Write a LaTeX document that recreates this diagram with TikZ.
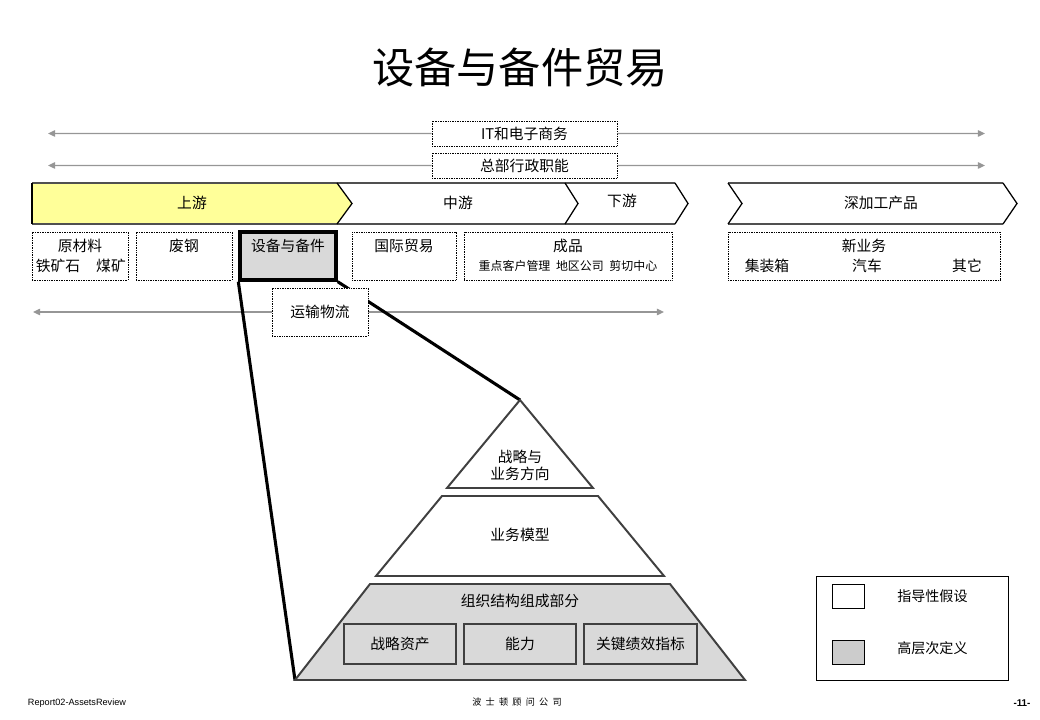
\documentclass[tikz,border=0pt]{standalone}
\usepackage{fontspec}
\setmainfont{Liberation Sans}
\newfontfamily\cjk{Noto Sans CJK SC}
\usepackage{tikz}
\usetikzlibrary{arrows.meta,calc,positioning,fit,backgrounds}
\definecolor{upyellow}{RGB}{255,255,153}
\definecolor{boxgray}{RGB}{217,217,217}
\definecolor{keygray}{RGB}{204,204,204}
\definecolor{flowgray}{RGB}{150,150,150}
\definecolor{edgegray}{RGB}{80,80,80}
\definecolor{pyrgray}{RGB}{64,64,64}

\begin{document}
\begin{tikzpicture}[x=0.025cm,y=-0.025cm,
    every node/.style={font=\cjk\fontsize{10.5}{12}\selectfont, inner sep=0pt},
    small/.style={font=\cjk\fontsize{8.5}{10}\selectfont},
    dotbox/.style={draw, dash pattern=on 0.6pt off 0.6pt, line width=0.6pt, fill=white},
    keybox/.style={draw, line width=2.4pt, fill=boxgray},
    innerbox/.style={draw=pyrgray, line width=0.9pt, fill=boxgray},
    flow/.style={draw=flowgray, line width=1pt, -{Triangle[length=5pt,width=4.5pt]}},
    chevedge/.style={draw=edgegray, line width=1.6pt},
    chevtip/.style={draw=black, line width=0.9pt},
    pyr/.style={draw=pyrgray, line width=1.4pt},
    funnel/.style={draw=black, line width=2.2pt}]
        \useasboundingbox (0,0) rectangle (1040,720);
        %Title
        \node[font=\cjk\fontsize{30}{34}\selectfont] (title) at (520,68) {设备与备件贸易};
        %Support functions
        \node[dotbox, fit={(432,121) (617,146)}] (it) {};
        \node (itt) at (it.center) {IT和电子商务};
        \node[dotbox, fit={(432,153) (617,178)}] (hq) {};
        \node (hqt) at (hq.center) {总部行政职能};
        \coordinate (itL) at (48,133.5);
        \coordinate (itR) at (985,133.5);
        \coordinate (hqL) at (48,165.5);
        \coordinate (hqR) at (985,165.5);
        \draw[flow] (it.west) -- (itL);
        \draw[flow] (it.east) -- (itR);
        \draw[flow] (hq.west) -- (hqL);
        \draw[flow] (hq.east) -- (hqR);
        %Value chain
        \fill[upyellow] (32,183) -- (337,183) -- (352,203.5) -- (337,224) -- (32,224) -- cycle;
        \draw[chevedge] (32,183) -- (675,183) (32,224) -- (675,224);
        \draw[chevedge] (728,183) -- (1003,183) (728,224) -- (1003,224);
        \draw[chevtip] (32,183) -- (32,224);
        \draw[chevtip] (337,183) -- (352,203.5) -- (337,224);
        \draw[chevtip] (565,183) -- (578,203.5) -- (565,224);
        \draw[chevtip] (675,183) -- (688,203.5) -- (675,224);
        \draw[chevtip] (728,183) -- (742,203.5) -- (728,224);
        \draw[chevtip] (1003,183) -- (1017,203.5) -- (1003,224);
        \node (up) at (192,203) {上游};
        \node (mid) at (458,203) {中游};
        \node (down) at (622,201) {下游};
        \node (deep) at (881,203) {深加工产品};
        %Business units
        \node[dotbox, fit={(32,232) (128,280)}] (raw) {};
        \node (rawt) at (80,246) {原材料};
        \node (ore) at (58,266) {铁矿石};
        \node (coal) at (111,266) {煤矿};
        \node[dotbox, fit={(136,232) (232,280)}] (scrap) {};
        \node (scrapt) at (184,246) {废钢};
        \node[keybox, fit={(240,232) (336,280)}] (equip) {};
        \node (equipt) at (288,246) {设备与备件};
        \node[dotbox, fit={(352,232) (456,280)}] (trade) {};
        \node (tradet) at (404,246) {国际贸易};
        \node[dotbox, fit={(464,232) (672,280)}] (prod) {};
        \node (prodt) at (568,246) {成品};
        \node[small] (prods) at (568,266) {重点客户管理\hspace{4pt}地区公司\hspace{4pt}剪切中心};
        \node[dotbox, fit={(728,232) (1000,280)}] (newb) {};
        \node (newbt) at (864,246) {新业务};
        \node (box) at (767,266) {集装箱};
        \node (car) at (867,266) {汽车};
        \node (other) at (967,266) {其它};
        %Logistics
        \node[dotbox, fit={(272,288) (368,336)}] (log) {};
        \node (logt) at (log.center) {运输物流};
        \coordinate (logL) at (33,312);
        \coordinate (logR) at (664,312);
        %Pyramid
        \coordinate (apex) at (520,400);
        \coordinate (base) at (295,680);
        \filldraw[pyr, fill=white] (apex) -- (593,488) -- (447,488) -- cycle;
        \filldraw[pyr, fill=white] (442,496) -- (598,496) -- (664,576) -- (376,576) -- cycle;
        \filldraw[pyr, fill=boxgray] (370,584) -- (670,584) -- (745,680) -- (base) -- cycle;
        \node[align=center] (strat) at (520,465) {战略与\\业务方向};
        \node (model) at (520,535) {业务模型};
        \node (org) at (520,601) {组织结构组成部分};
        \node[innerbox, fit={(344,624) (456,664)}] (asset) {};
        \node (assett) at (asset.center) {战略资产};
        \node[innerbox, fit={(464,624) (576,664)}] (cap) {};
        \node (capt) at (cap.center) {能力};
        \node[innerbox, fit={(584,624) (697,664)}] (kpi) {};
        \node (kpit) at (kpi.center) {关键绩效指标};
        %Funnel
        \begin{scope}[on background layer]
        \draw[flow] (log.west) -- (logL);
        \draw[flow] (log.east) -- (logR);
        \draw[funnel] (equip.south west) -- (base);
        \draw[funnel] (equip.south east) -- (apex);
        \end{scope}
        %Legend
        \node[draw, line width=0.7pt, fit={(816,576) (1008,680)}] (legend) {};
        \node[draw, line width=0.6pt, fill=white, fit={(832,584) (864,608)}] (keyw) {};
        \node[draw, line width=0.6pt, fill=keygray, fit={(832,640) (864,664)}] (keyg) {};
        \node[anchor=west, font=\cjk\fontsize{10}{12}\selectfont] (keywt) at (897,596) {指导性假设};
        \node[anchor=west, font=\cjk\fontsize{10}{12}\selectfont] (keygt) at (897,648) {高层次定义};
        %Footer
        \node[font=\fontsize{6.5}{8}\selectfont] (rep) at (77,703) {Report02-AssetsReview};
        \node[font=\cjk\fontsize{6.5}{8}\selectfont] (firm) at (517,702) {波\hspace{3pt}士\hspace{3pt}顿\hspace{3pt}顾\hspace{3pt}问\hspace{3pt}公\hspace{3pt}司};
        \node[font=\bfseries\fontsize{7}{8}\selectfont] (page) at (1022,703) {-11-};
      \end{tikzpicture}
\end{document}
